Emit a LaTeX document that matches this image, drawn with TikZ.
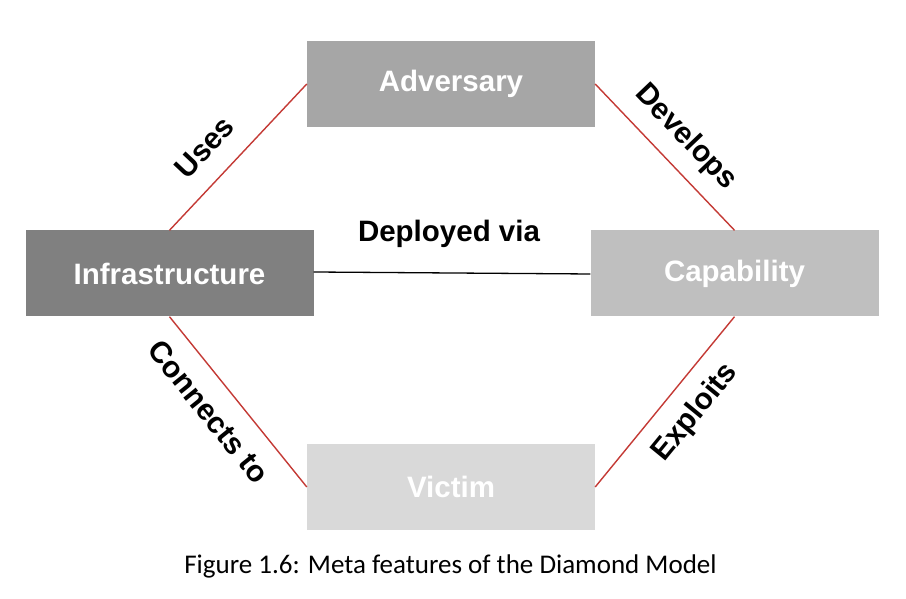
\documentclass[tikz,border=0pt]{standalone}
\usepackage{fontspec}
\setmainfont{Liberation Sans}
\newfontfamily\capfont{Carlito}
\definecolor{advgray}{HTML}{A6A6A6}
\definecolor{infgray}{HTML}{808080}
\definecolor{capgray}{HTML}{BFBFBF}
\definecolor{vicgray}{HTML}{D9D9D9}
\definecolor{linkred}{HTML}{C43A35}
\tikzset{
  box/.style={rectangle, minimum width=288pt, minimum height=86pt, inner sep=0pt,
    text=white, font=\fontsize{29.5}{34}\selectfont\bfseries},
  redlink/.style={draw=linkred, line width=1.4pt},
  lbl/.style={font=\fontsize{30}{35}\selectfont\bfseries, inner sep=0pt, sloped},
}
\begin{document}
\begin{tikzpicture}[x=1pt,y=1pt]
\path[fill=white,use as bounding box] (0,0) rectangle (906,599);
\node[box, fill=advgray] (adv) at (451,515) {Adversary};
\node[box, fill=infgray] (inf) at (169.5,325.5) {Infrastructure};
\node[box, fill=capgray] (cap) at (734.5,325.5) {Capability};
\node[box, fill=vicgray] (vic) at (451,112) {Victim};
\draw[redlink] (inf.north) -- node[lbl, pos=0.42, above=20pt] (uses) {Uses} (adv.west);
\draw[redlink] (adv.east) -- node[lbl, pos=0.5, above=14pt] (dev) {Develops} (cap.north);
\draw[redlink] (inf.south) -- node[lbl, pos=0.45, below=18pt] (con) {Connects to} (vic.west);
\draw[redlink] (vic.east) -- node[lbl, pos=0.55, below=16pt] (exp) {Exploits} (cap.south);
\draw[black, line width=1.3pt] ([yshift=1.5pt]inf.east) -- ([yshift=-0.5pt]cap.west);
\node[font=\fontsize{29.5}{34}\selectfont\bfseries, inner sep=0pt] (dep) at (449,365) {Deployed via};
\node[font=\capfont\fontsize{27}{32}\selectfont, inner sep=0pt] (cap1) at (450.5,33) {Figure 1.6: Meta features of the Diamond Model};
\end{tikzpicture}
\end{document}
